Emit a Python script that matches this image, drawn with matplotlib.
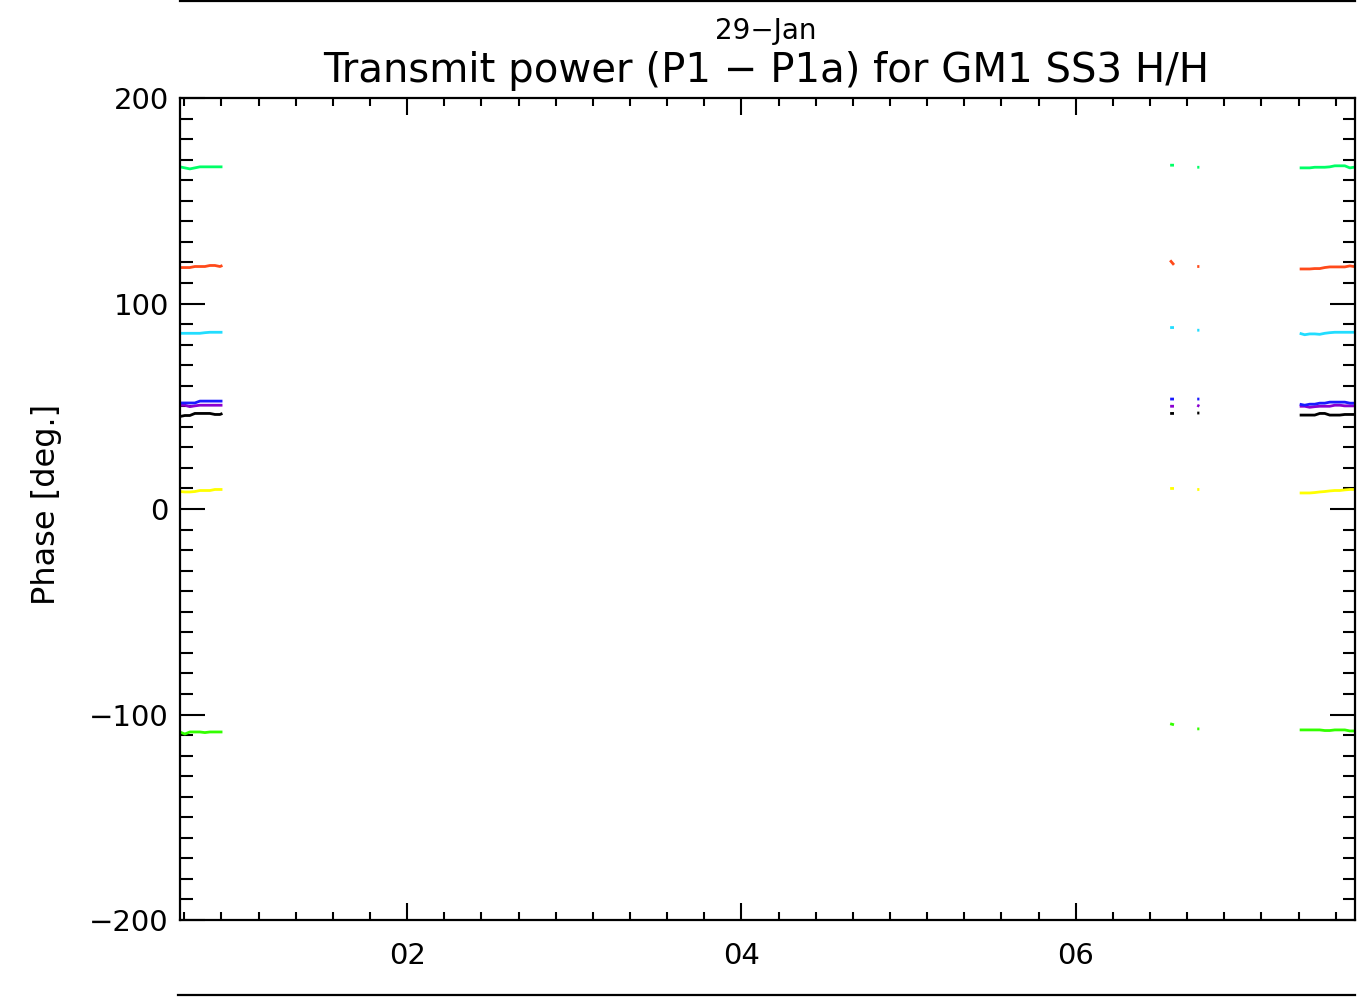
"""Transmit power phase plot (P1 - P1a), GM1 SS3 H/H, 29-Jan."""

import numpy as np
import matplotlib

matplotlib.use("Agg")
import matplotlib.pyplot as plt
from matplotlib.lines import Line2D
from matplotlib.ticker import MultipleLocator, FuncFormatter

nan = np.nan

# time in hours: left block, two short bursts mid-way, right block (nan = gap)
T_LEFT = [0.64, 0.67, 0.70, 0.73, 0.76, 0.79, 0.82, 0.85, 0.88, 0.895]
T_MID = [6.565, 6.588, nan, 6.727, 6.740]
T_RIGHT = [7.34, 7.37, 7.40, 7.43, 7.46, 7.49, 7.52, 7.55, 7.58, 7.61, 7.64, 7.68]
HOURS = T_LEFT + [nan] + T_MID + [nan] + T_RIGHT

# phase in degrees per channel, same layout as HOURS
GREEN_TOP = [166.5, 166.0, 165.5, 166.0, 166.5, 166.5, 166.5, 166.5, 166.5, 166.5, nan,
             167.3, 167.3, nan, 166.3, 166.3, nan,
             166.0, 166.0, 166.0, 166.3, 166.3, 166.3, 166.5, 167.0, 167.0, 167.0, 166.0, 166.5]
ORANGE = [117.5, 117.5, 117.5, 118.0, 118.0, 118.0, 118.5, 118.5, 118.0, 118.5, nan,
          121.0, 118.8, nan, 118.0, 118.0, nan,
          116.8, 116.8, 116.8, 117.0, 117.0, 117.5, 117.8, 117.8, 117.8, 117.8, 118.3, 117.8]
CYAN = [85.5, 85.5, 85.5, 85.5, 85.5, 85.8, 86.0, 86.0, 86.0, 86.0, nan,
        88.3, 88.3, nan, 87.0, 87.0, nan,
        85.5, 84.8, 85.2, 85.2, 85.0, 85.5, 85.8, 86.0, 86.0, 86.0, 86.0, 86.0]
BLUE = [51.6, 51.6, 51.6, 51.6, 52.5, 52.5, 52.5, 52.5, 52.5, 52.5, nan,
        53.5, 53.5, nan, 53.5, 53.5, nan,
        51.0, 50.5, 51.0, 51.0, 51.5, 51.5, 52.0, 52.0, 52.0, 52.0, 51.5, 51.5]
PURPLE = [50.5, 50.5, 49.8, 50.2, 50.5, 50.5, 50.5, 50.5, 50.5, 50.5, nan,
          50.0, 50.0, nan, 50.5, 50.0, nan,
          50.0, 50.0, 49.5, 49.8, 50.0, 50.0, 50.0, 50.5, 50.5, 50.2, 50.2, 50.2]
BLACK = [45.0, 45.5, 45.5, 46.5, 46.5, 46.5, 46.5, 46.0, 46.0, 46.5, nan,
         46.5, 46.5, nan, 46.7, 46.7, nan,
         45.7, 45.7, 45.7, 45.7, 46.5, 46.5, 45.7, 45.7, 45.7, 46.0, 46.0, 46.0]
YELLOW = [8.5, 8.3, 8.3, 8.5, 9.0, 9.0, 9.0, 9.5, 9.5, 9.5, nan,
          10.0, 10.0, nan, 9.5, 9.5, nan,
          7.8, 7.8, 7.8, 8.0, 8.3, 8.5, 8.8, 9.0, 9.0, 9.3, 9.5, 9.5]
LIME = [-108.5, -109.5, -108.5, -108.5, -108.5, -108.8, -108.5, -108.5, -108.5, -108.5, nan,
        -104.5, -105.0, nan, -107.0, -107.0, nan,
        -107.5, -107.5, -107.5, -107.5, -107.5, -107.8, -107.8, -107.5, -107.5, -107.5, -108.0, -108.0]

SERIES = [
    (GREEN_TOP, "#00ff66"),
    (ORANGE, "#ff4a1a"),
    (CYAN, "#22ddff"),
    (PURPLE, "#8a00d0"),
    (BLUE, "#1a1aff"),
    (BLACK, "#000000"),
    (YELLOW, "#ffff00"),
    (LIME, "#33ff00"),
]

X_MIN, X_MAX = 0.641, 7.671
Y_MIN, Y_MAX = -200, 200

FONT = ["DejaVu Sans"]

fig = plt.figure(figsize=(13.66, 10), dpi=100)
ax = fig.add_axes([180 / 1366, 0.080, 1175 / 1366, 0.822])

for values, color in SERIES:
    ax.plot(HOURS, values, color=color, lw=2.0, solid_capstyle="butt")

ax.set_xlim(X_MIN, X_MAX)
ax.set_ylim(Y_MIN, Y_MAX)

ax.xaxis.set_major_locator(MultipleLocator(2))
ax.xaxis.set_minor_locator(MultipleLocator(2 / 9))
ax.yaxis.set_major_locator(MultipleLocator(100))
ax.yaxis.set_minor_locator(MultipleLocator(10))
ax.xaxis.set_major_formatter(FuncFormatter(lambda v, _: f"{int(round(v)):02d}"))
ax.yaxis.set_major_formatter(FuncFormatter(lambda v, _: f"{int(v)}".replace("-", "\u2212")))

ax.tick_params(axis="x", which="major", direction="in", length=12, width=1.5,
               top=True, pad=16, labelsize=21)
ax.tick_params(axis="x", which="minor", direction="in", length=6, width=1.5, top=True)
ax.tick_params(axis="y", which="major", direction="in", length=18, width=1.5,
               right=True, pad=8, labelsize=21)
ax.tick_params(axis="y", which="minor", direction="in", length=9, width=1.5, right=True)
for lab in ax.get_xticklabels() + ax.get_yticklabels():
    lab.set_family(FONT)
for spine in ax.spines.values():
    spine.set_linewidth(1.6)

fig.text(47 / 1366, 0.496, "Phase [deg.]", rotation=90, ha="center", va="center",
         fontsize=23, family=FONT)
fig.text(766 / 1366, 0.969, "29\u2212Jan", ha="center", va="center", fontsize=20, family=FONT)
fig.text(766 / 1366, 0.929, "Transmit power (P1 \u2212 P1a) for GM1 SS3 H/H",
         ha="center", va="center", fontsize=29, family=FONT)

# frame rules above and below the plot
fig.add_artist(Line2D([180 / 1366, 1355 / 1366], [0.999, 0.999], color="black", lw=1.6))
fig.add_artist(Line2D([178 / 1366, 1355 / 1366], [0.005, 0.005], color="black", lw=1.6))

fig.savefig("out.png", dpi=100)
